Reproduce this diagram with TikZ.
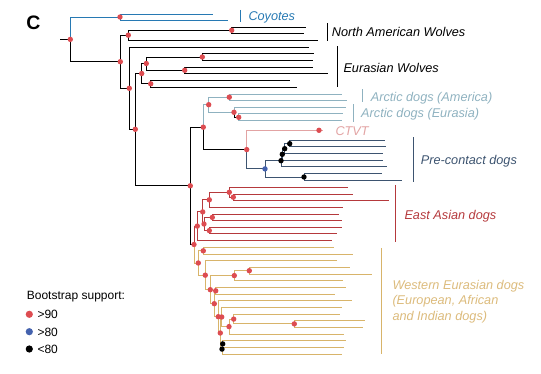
\documentclass[tikz,border=0pt]{standalone}
\usepackage{fontspec}
\setmainfont{Liberation Sans}
\definecolor{coyblue}{HTML}{2779B3}
\definecolor{arctic}{HTML}{8FB2C0}
\definecolor{ctvt}{HTML}{E2A3A3}
\definecolor{precon}{HTML}{3D5470}
\definecolor{eastasia}{HTML}{B5393C}
\definecolor{western}{HTML}{D8B46A}
\definecolor{westtext}{HTML}{DCBB7C}
\definecolor{nodered}{HTML}{DD4C51}
\definecolor{nodeblue}{HTML}{4462AE}
\begin{document}
\begin{tikzpicture}[x=1pt,y=-1pt,
  br/.style={line width=0.95pt},
  cladebar/.style={line width=0.95pt},
  lab/.style={anchor=base west, inner sep=0pt, font=\fontsize{12.7}{15.5}\selectfont\itshape},
  leg/.style={anchor=base west, inner sep=0pt, font=\fontsize{12}{14}\selectfont}]
\useasboundingbox (0,0) rectangle (541,374);
% ---------- coordinates ----------
\coordinate (S) at (60,39.4);
\coordinate (R) at (70.3,39.4);
\coordinate (Cy) at (120,17);
\coordinate (cy1) at (212.7,14);
\coordinate (cy2) at (228,20.3);
\coordinate (N1) at (120.3,61.7);
\coordinate (NA) at (128.3,35.2);
\coordinate (NA1) at (231.7,30.3);
\coordinate (na1) at (306,27.3);
\coordinate (na2) at (304,33.3);
\coordinate (na3) at (317.7,40);
\coordinate (N2) at (129.3,88.3);
\coordinate (ew0) at (308.7,47.3);
\coordinate (N3) at (135.3,129.3);
\coordinate (EW) at (141.7,73.5);
\coordinate (EW1) at (146.3,63.5);
\coordinate (EW1a) at (202.3,57);
\coordinate (ew1) at (313.7,53.7);
\coordinate (ew2) at (312.7,60.3);
\coordinate (EW1b) at (184.7,70.3);
\coordinate (ew3) at (312.7,67.3);
\coordinate (ew4) at (327.7,73.3);
\coordinate (EW2) at (150.7,83.8);
\coordinate (ew5) at (289.7,80.3);
\coordinate (ew6) at (296.7,87.3);
\coordinate (D0) at (190.3,185.8);
\coordinate (AR) at (203.3,127.2);
\coordinate (A0) at (208.7,104.7);
\coordinate (A1) at (229.3,97.2);
\coordinate (a1) at (341.7,94);
\coordinate (a2) at (347,100.3);
\coordinate (A2) at (234,112.3);
\coordinate (a3) at (346,107.3);
\coordinate (A3) at (238.7,117.3);
\coordinate (a4) at (343,113.7);
\coordinate (a5) at (342,120.3);
\coordinate (PC) at (246.7,149.6);
\coordinate (ct) at (323.3,130.3);
\coordinate (ctd) at (319,130.3);
\coordinate (PC0) at (265,168.9);
\coordinate (PC1) at (281,160.7);
\coordinate (PC2) at (282.3,154.3);
\coordinate (PC3) at (284.7,148.7);
\coordinate (PC4) at (289.7,143.7);
\coordinate (p1) at (385,140.7);
\coordinate (p2) at (385.7,146.7);
\coordinate (p3) at (383,153.3);
\coordinate (p4) at (383,160);
\coordinate (p5) at (386.7,166.7);
\coordinate (PC5) at (304,177);
\coordinate (p6) at (382,173.7);
\coordinate (p7) at (401.7,180.3);
\coordinate (W0) at (194,244.5);
\coordinate (EA0) at (197.3,226.1);
\coordinate (EA1) at (202.7,211.9);
\coordinate (EA2) at (209.3,199.8);
\coordinate (EA3) at (229.3,192.3);
\coordinate (EA4) at (233.3,197.2);
\coordinate (EA5) at (204,224);
\coordinate (EA6) at (212.3,217.4);
\coordinate (EA7) at (209.3,230.6);
\coordinate (e1) at (347.7,187.3);
\coordinate (e2) at (353,194);
\coordinate (e3) at (388.7,200.3);
\coordinate (e4) at (342.7,207.3);
\coordinate (e5) at (339,214.3);
\coordinate (e6) at (341.7,220.5);
\coordinate (e7) at (341.7,227.3);
\coordinate (e8) at (336.7,233.9);
\coordinate (e9) at (331.7,240.2);
\coordinate (W1) at (198.3,263);
\coordinate (W2) at (203.3,250.8);
\coordinate (W3) at (205.3,275.2);
\coordinate (W4) at (210.3,289.7);
\coordinate (W5) at (234.3,275.6);
\coordinate (W5a) at (249.3,270.7);
\coordinate (W6) at (215.7,290.8);
\coordinate (W7) at (214.3,303.7);
\coordinate (W8) at (218.3,316.7);
\coordinate (W9) at (220.3,333);
\coordinate (W10) at (221.7,317);
\coordinate (W11) at (229,326.6);
\coordinate (W12) at (233.7,319.1);
\coordinate (W13) at (294.3,323.9);
\coordinate (B1) at (222.7,343.9);
\coordinate (B2) at (222,349.1);
\coordinate (w1) at (334.3,247.3);
\coordinate (w2) at (352.7,254.3);
\coordinate (w3) at (336.7,260.7);
\coordinate (w4) at (350,267.3);
\coordinate (w5) at (372,274);
\coordinate (w6) at (342.7,280.5);
\coordinate (w7) at (345.7,287.3);
\coordinate (w8) at (335,294.3);
\coordinate (w9) at (351.7,300.3);
\coordinate (w10) at (341.7,307.3);
\coordinate (w11) at (340,314.3);
\coordinate (w12) at (365,320.5);
\coordinate (w13) at (362.7,327.3);
\coordinate (w14) at (344,334);
\coordinate (w15) at (345.7,340.5);
\coordinate (w16) at (344,347.3);
\coordinate (w17) at (341.7,354.3);
% ---------- branches ----------
\draw[br] (S) -- (R);
\foreach \p/\c in {R/Cy,Cy/cy1,Cy/cy2}
  \draw[br,coyblue] (\p) |- (\c);
\foreach \p/\c in {R/N1,N1/NA,NA/NA1,NA1/na1,NA1/na2,NA/na3,N1/N2,N2/ew0,N2/N3,
    N3/EW,EW/EW1,EW1/EW1a,EW1a/ew1,EW1a/ew2,EW1/EW1b,EW1b/ew3,EW1b/ew4,
    EW/EW2,EW2/ew5,EW2/ew6,N3/D0,D0/AR,AR/PC,A2/A3}
  \draw[br,black] (\p) |- (\c);
\foreach \p/\c in {AR/A0,A0/A1,A1/a1,A1/a2,A0/A2,A2/a3,A3/a4,A3/a5}
  \draw[br,arctic] (\p) |- (\c);
\draw[br,ctvt] (PC) |- (ct);
\foreach \p/\c in {PC/PC0,PC0/PC1,PC1/PC2,PC2/PC3,PC3/PC4,PC4/p1,PC4/p2,PC3/p3,PC2/p4,PC1/p5,
    PC0/PC5,PC5/p6,PC5/p7}
  \draw[br,precon] (\p) |- (\c);
\draw[br,black] (D0) |- (W0);
\foreach \p/\c in {W0/EA0,EA0/EA1,EA0/e9,EA1/EA2,EA2/EA3,EA3/e1,EA3/EA4,EA4/e2,EA4/e3,EA2/e4,
    EA1/EA5,EA5/EA6,EA6/e5,EA6/e6,EA5/EA7,EA7/e7,EA7/e8}
  \draw[br,eastasia] (\p) |- (\c);
\foreach \p/\c in {W0/W1,W1/W2,W2/w1,W2/w2,W1/W3,W3/w3,W3/W4,W4/W5,W5/W5a,W5a/w4,W5a/w5,W5/w6,
    W4/W7,W7/W6,W6/w7,W6/w8,W7/W8,W8/w9,W8/W9,W9/W10,W10/w10,W10/W11,W11/W12,W12/w11,W12/W13,
    W13/w12,W13/w13,W11/w14,W9/B2,B2/B1,B1/w15,B1/w16,B2/w17}
  \draw[br,western] (\p) |- (\c);
% ---------- support dots ----------
\foreach \n in {R,Cy,N1,NA,NA1,N2,N3,EW,EW1,EW1a,EW1b,EW2,D0,AR,A0,A1,A2,A3,PC,ctd,
    W0,EA0,EA1,EA2,EA3,EA4,EA5,EA6,EA7,W1,W2,W3,W4,W5,W5a,W6,W7,W8,W9,W10,W11,W12,W13}
  \fill[nodered] (\n) circle (2.7pt);
\fill[nodeblue] (PC0) circle (2.7pt);
\foreach \n in {PC1,PC2,PC3,PC4,PC5,B1,B2}
  \fill[black] (\n) circle (2.7pt);
% ---------- clade bars ----------
\draw[cladebar,coyblue] (240.3,10) -- (240.3,21.7);
\draw[cladebar,black] (327.3,23.3) -- (327.3,40.7);
\draw[cladebar,black] (337.3,46.3) -- (337.3,87.3);
\draw[cladebar,arctic] (362.5,89.3) -- (362.5,101.7);
\draw[cladebar,arctic] (353.3,104.3) -- (353.3,121.7);
\draw[cladebar,precon] (413.3,137.3) -- (413.3,182.3);
\draw[cladebar,eastasia] (395.3,185) -- (395.3,241.7);
\draw[cladebar,western] (381.3,248.3) -- (381.3,354);
% ---------- labels ----------
\node[anchor=base west, inner sep=0pt, font=\fontsize{19.5}{20}\selectfont\bfseries] (panel) at (26.2,29.3) {C};
\node[lab,text=coyblue] (tcoy) at (248.3,20.8) {Coyotes};
\node[lab,text=black] (tnaw) at (331.7,36.9) {North American Wolves};
\node[lab,text=black] (teuw) at (343.3,72.4) {Eurasian Wolves};
\node[lab,text=arctic] (tam) at (370.7,101.4) {Arctic dogs (America)};
\node[lab,text=arctic] (teu) at (361,117.3) {Arctic dogs (Eurasia)};
\node[lab,text=ctvt] (tct) at (335.3,135.2) {CTVT};
\node[lab,text=precon] (tpc) at (420.7,164.2) {Pre-contact dogs};
\node[lab,text=eastasia] (tea) at (404.3,219.8) {East Asian dogs};
\node[lab,text=westtext] (tw1) at (392.3,289.2) {Western Eurasian dogs};
\node[lab,text=westtext] (tw2) at (392.3,304.8) {(European, African};
\node[lab,text=westtext] (tw3) at (392.3,320.3) {and Indian dogs)};
% ---------- legend ----------
\node[leg] (lt) at (26.7,299.3) {Bootstrap support:};
\fill[nodered] (29.3,314.3) circle (3.6pt);
\fill[nodeblue] (29.3,331.7) circle (3.6pt);
\fill[black] (29.3,349) circle (3.6pt);
\node[leg] (l1) at (37.3,318.6) {>90};
\node[leg] (l2) at (37.3,336) {>80};
\node[leg] (l3) at (37.3,353.3) {<80};
\end{tikzpicture}
\end{document}
